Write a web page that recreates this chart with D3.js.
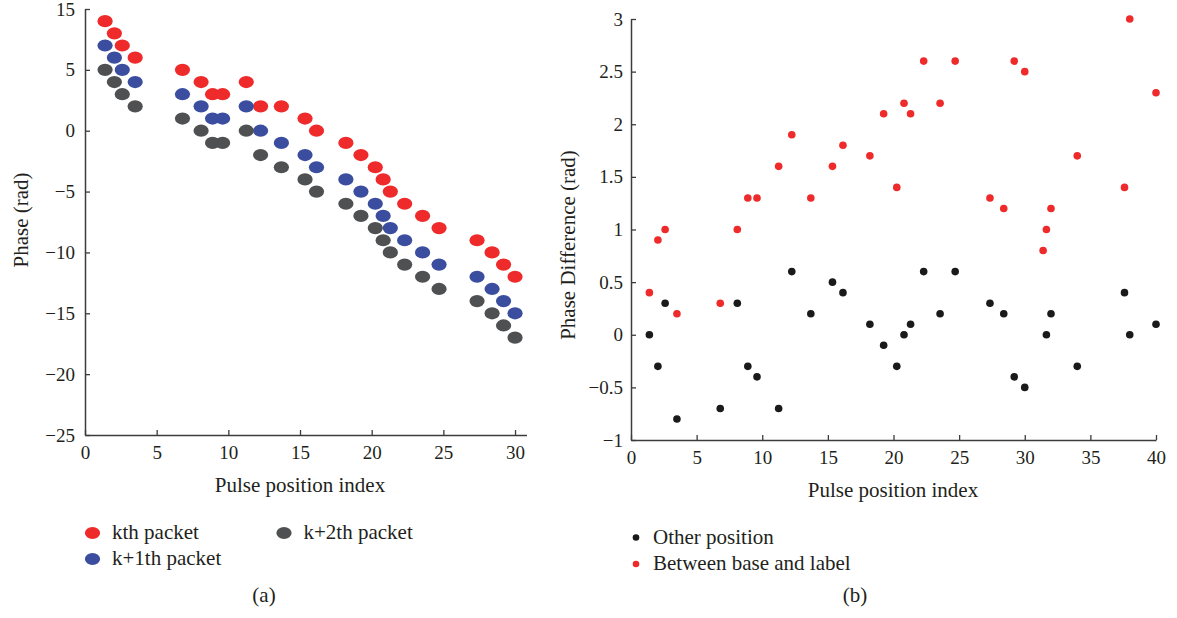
<!DOCTYPE html>
<html>
<head>
<meta charset="utf-8">
<script src="https://cdn.jsdelivr.net/npm/d3@7"></script>
<style>
  html, body { margin: 0; padding: 0; background: #fff; }
  svg { display: block; }
  text { font-family: "Liberation Serif", "Times New Roman", serif; fill: #231f20; }
</style>
</head>
<body>
<svg id="chart" width="1177" height="618"></svg>
<script>
// ---- Panel (a): phase of three consecutive packets ----
const pulseIndex = [1.4, 2.05, 2.6, 3.5, 6.8, 8.1, 8.9, 9.6, 11.25, 12.25, 13.7, 15.35, 16.15,
                    18.2, 19.25, 20.25, 20.8, 21.3, 22.3, 23.55, 24.7, 27.35, 28.4, 29.2, 30.0];
const phaseK  = [9, 8, 7, 6, 5, 4, 3, 3, 4, 2, 2, 1, 0, -1, -2, -3, -4, -5, -6, -7, -8, -9, -10, -11, -12];
const phaseK1 = [7, 6, 5, 4, 3, 2, 1, 1, 2, 0, -1, -2, -3, -4, -5, -6, -7, -8, -9, -10, -11, -12, -13, -14, -15];
const phaseK2 = [5, 4, 3, 2, 1, 0, -1, -1, 0, -2, -3, -4, -5, -6, -7, -8, -9, -10, -11, -12, -13, -14, -15, -16, -17];
const packetNames = ["kth packet", "k+1th packet", "k+2th packet"];
const phaseTickValues = [-25, -20, -15, -10, -5, 0, 5, 10];
const phaseTickLabels = ["\u221225", "\u221220", "\u221215", "\u221210", "\u22125", "0", "5", "15"];
const indexTicksA = [0, 5, 10, 15, 20, 25, 30];

// ---- Panel (b): phase difference ----
const otherX = [1.4, 2.05, 2.6, 3.5, 6.8, 8.1, 8.9, 9.6, 11.25, 12.25, 13.7, 15.35, 16.15, 18.2, 19.25, 20.25,
                20.8, 21.3, 22.3, 23.55, 24.7, 27.35, 28.4, 29.2, 30.0, 31.65, 32.0, 34.0, 37.6, 38.0, 40.0];
const otherY = [0, -0.3, 0.3, -0.8, -0.7, 0.3, -0.3, -0.4, -0.7, 0.6, 0.2, 0.5, 0.4, 0.1, -0.1, -0.3,
                0, 0.1, 0.6, 0.2, 0.6, 0.3, 0.2, -0.4, -0.5, 0, 0.2, -0.3, 0.4, 0, 0.1];
const baseLabelX = [1.4, 2.05, 2.6, 3.5, 6.8, 8.1, 8.9, 9.6, 11.25, 12.25, 13.7, 15.35, 16.15, 18.2, 19.25, 20.25,
                    20.8, 21.3, 22.3, 23.55, 24.7, 27.35, 28.4, 29.2, 30.0, 31.4, 31.65, 32.0, 34.0, 37.6, 38.0, 40.0];
const baseLabelY = [0.4, 0.9, 1.0, 0.2, 0.3, 1.0, 1.3, 1.3, 1.6, 1.9, 1.3, 1.6, 1.8, 1.7, 2.1, 1.4,
                    2.2, 2.1, 2.6, 2.2, 2.6, 1.3, 1.2, 2.6, 2.5, 0.8, 1.0, 1.2, 1.7, 1.4, 3.0, 2.3];
const diffNames = ["Other position", "Between base and label"];
const diffTickValues = [-1, -0.5, 0, 0.5, 1, 1.5, 2, 2.5, 3];
const indexTicksB = [0, 5, 10, 15, 20, 25, 30, 35, 40];

const packetColors = ["#ee2a2b", "#3a4d9f", "#4f5052"];
const diffColors = ["#1a1a1a", "#ee2a2b"];
const axisColor = "#3c3c3c";
const tickFont = 19;
const labelFont = 21;
const fmt = v => String(v).replace("-", "\u2212");

const svg = d3.select("#chart");

function styleAxis(g) {
  g.selectAll(".domain").attr("stroke", axisColor).attr("stroke-width", 1.5);
  g.selectAll(".tick line").attr("stroke", axisColor).attr("stroke-width", 1.3);
  g.selectAll(".tick text").attr("font-size", tickFont).attr("fill", "#231f20")
    .style("font-family", "'Liberation Serif', serif");
}

// x-axis tick labels sit with their baseline a fixed distance below the axis line
function placeBottomLabels(g) {
  g.selectAll(".tick text").attr("y", 24).attr("dy", null);
}

// ================= Panel (a) =================
const xA = d3.scaleLinear().domain([0, 30.8]).range([85, 526.5]);
const yA = d3.scaleLinear().domain([-25, 10]).range([435, 9]);

const gxA = svg.append("g").attr("transform", `translate(0,${yA(-25)})`)
  .call(d3.axisBottom(xA).tickValues(indexTicksA).tickSize(-5).tickPadding(10).tickSizeOuter(0));
styleAxis(gxA);
placeBottomLabels(gxA);

const gyA = svg.append("g").attr("transform", `translate(${xA(0)},0)`)
  .call(d3.axisLeft(yA).tickValues(phaseTickValues)
        .tickFormat((d, i) => phaseTickLabels[i]).tickSize(-5).tickPadding(10).tickSizeOuter(0));
styleAxis(gyA);

const seriesA = [phaseK, phaseK1, phaseK2];
seriesA.forEach((vals, s) => {
  svg.append("g").selectAll("ellipse")
    .data(vals.map((v, i) => ({ x: pulseIndex[i], y: v })))
    .join("ellipse")
    .attr("cx", d => xA(d.x)).attr("cy", d => yA(d.y))
    .attr("rx", 7.6).attr("ry", 6.1)
    .attr("fill", packetColors[s]);
});

svg.append("text").attr("x", 300).attr("y", 492).attr("text-anchor", "middle")
  .attr("font-size", labelFont).text("Pulse position index");
svg.append("text").attr("transform", "translate(28,220) rotate(-90)")
  .attr("text-anchor", "middle").attr("font-size", labelFont).text("Phase (rad)");

// legend (a)
const legA = [
  { i: 0, x: 92.5, y: 533 },
  { i: 1, x: 92.5, y: 559 },
  { i: 2, x: 284, y: 533 }
];
legA.forEach(l => {
  svg.append("ellipse").attr("cx", l.x).attr("cy", l.y).attr("rx", 7.6).attr("ry", 6.1)
    .attr("fill", packetColors[l.i]);
  svg.append("text").attr("x", l.x + 19.5).attr("y", l.y + 5.5).attr("font-size", labelFont)
    .text(packetNames[l.i]);
});
svg.append("text").attr("x", 264).attr("y", 602).attr("text-anchor", "middle")
  .attr("font-size", labelFont).text("(a)");

// ================= Panel (b) =================
const xB = d3.scaleLinear().domain([0, 40]).range([631, 1156]);
const yB = d3.scaleLinear().domain([-1, 3]).range([440, 19]);

const gxB = svg.append("g").attr("transform", `translate(0,${yB(-1)})`)
  .call(d3.axisBottom(xB).tickValues(indexTicksB).tickSize(-5).tickPadding(10).tickSizeOuter(0));
styleAxis(gxB);
placeBottomLabels(gxB);

const gyB = svg.append("g").attr("transform", `translate(${xB(0)},0)`)
  .call(d3.axisLeft(yB).tickValues(diffTickValues).tickFormat(fmt)
        .tickSize(-5).tickPadding(8).tickSizeOuter(0));
styleAxis(gyB);

const seriesB = [
  otherX.map((x, i) => ({ x, y: otherY[i] })),
  baseLabelX.map((x, i) => ({ x, y: baseLabelY[i] }))
];
seriesB.forEach((pts, s) => {
  svg.append("g").selectAll("circle")
    .data(pts).join("circle")
    .attr("cx", d => xB(d.x)).attr("cy", d => yB(d.y))
    .attr("r", 3.8).attr("fill", diffColors[s]);
});

svg.append("text").attr("x", 893).attr("y", 497).attr("text-anchor", "middle")
  .attr("font-size", labelFont).text("Pulse position index");
svg.append("text").attr("transform", "translate(575,245) rotate(-90)")
  .attr("text-anchor", "middle").attr("font-size", labelFont).text("Phase Difference (rad)");

// legend (b)
diffNames.forEach((name, i) => {
  const y = 537.5 + i * 26.5;
  svg.append("circle").attr("cx", 636).attr("cy", y).attr("r", 3.3).attr("fill", diffColors[i]);
  svg.append("text").attr("x", 653).attr("y", y + 6).attr("font-size", labelFont).text(name);
});
svg.append("text").attr("x", 855).attr("y", 602).attr("text-anchor", "middle")
  .attr("font-size", labelFont).text("(b)");
</script>
</body>
</html>
